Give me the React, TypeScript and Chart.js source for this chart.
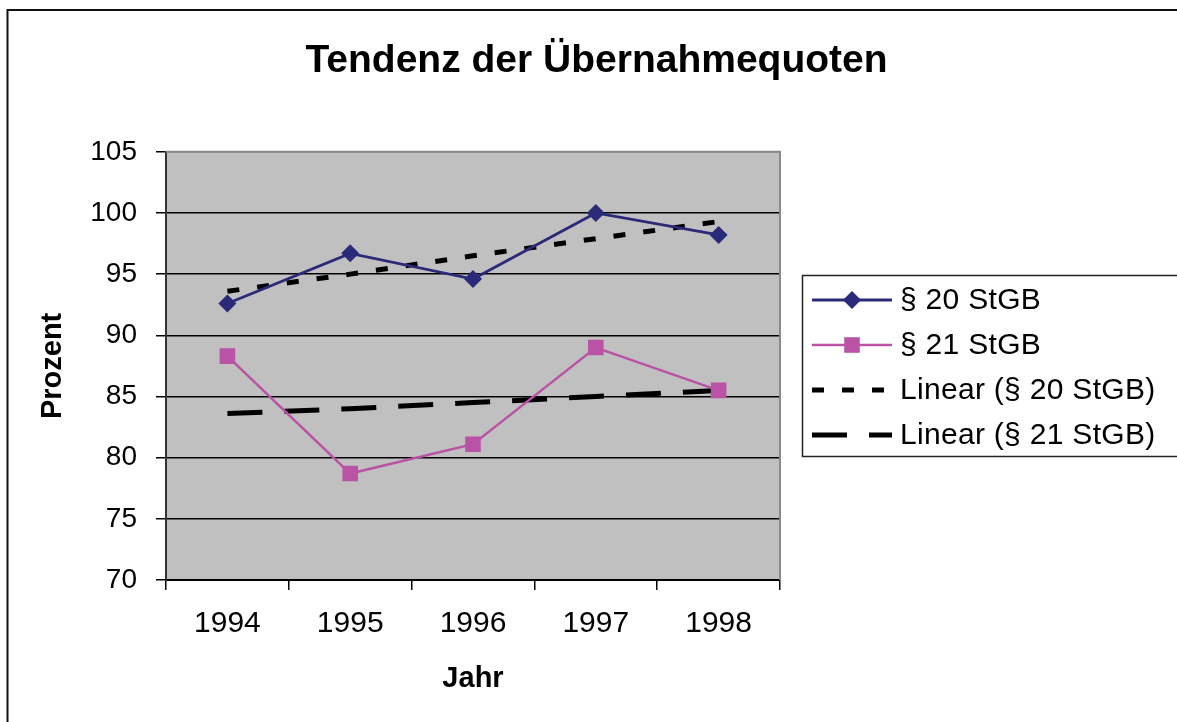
import React, { useEffect, useRef } from 'react';
import { Chart, registerables } from 'chart.js';

Chart.register(...registerables);

// ---- data ----
const years = ['1994', '1995', '1996', '1997', '1998'];
const stgb20 = [92.6, 96.7, 94.6, 100.0, 98.2];
const stgb21 = [88.3, 78.7, 81.1, 89.0, 85.5];
const trend20 = [93.6, 95.0, 96.5, 97.9, 99.3];
const trend21 = [83.6, 84.0, 84.5, 85.0, 85.5];
const seriesNames = ['§ 20 StGB', '§ 21 StGB', 'Linear (§ 20 StGB)', 'Linear (§ 21 StGB)'];
const yMin = 70;
const yMax = 105;
const yStep = 5;
const titleText = 'Tendenz der Übernahmequoten';
const xTitle = 'Jahr';
const yTitle = 'Prozent';

const FONT = "'Liberation Sans', Arial, Helvetica, sans-serif";
const NAVY = '#2A2A78';
const MAGENTA = '#BA52A6';

const framePlugin = {
  id: 'excelFrame',
  beforeDraw(chart: any) {
    const { ctx, chartArea: a } = chart;
    ctx.save();
    ctx.fillStyle = '#ffffff';
    ctx.fillRect(0, 0, chart.width, chart.height);
    ctx.fillStyle = '#C0C0C0';
    ctx.fillRect(a.left, a.top, a.right - a.left, a.bottom - a.top);
    ctx.strokeStyle = '#111';
    ctx.lineWidth = 2;
    ctx.beginPath();
    ctx.moveTo(7.5, chart.height);
    ctx.lineTo(7.5, 10);
    ctx.lineTo(chart.width, 10);
    ctx.stroke();
    ctx.restore();
  },
  beforeDatasetsDraw(chart: any) {
    const { ctx, chartArea: a } = chart;
    ctx.save();
    ctx.strokeStyle = '#8a8a8a';
    ctx.lineWidth = 2;
    ctx.beginPath();
    ctx.moveTo(a.right, a.bottom);
    ctx.lineTo(a.right, a.top);
    ctx.lineTo(a.left, a.top);
    ctx.stroke();
    ctx.restore();
  },
  afterDraw(chart: any) {
    const { ctx } = chart;
    const boxX = 802.5;
    const boxY = 275.5;
    const boxH = 181;
    ctx.save();
    ctx.strokeStyle = '#222';
    ctx.lineWidth = 1.5;
    ctx.strokeRect(boxX, boxY, chart.width - boxX + 10, boxH);
    const rowY = [300, 345, 390, 435];
    chart.data.datasets.forEach((ds: any, i: number) => {
      const y = rowY[i];
      ctx.save();
      ctx.strokeStyle = ds.borderColor;
      ctx.lineWidth = ds.borderWidth;
      ctx.setLineDash(ds.borderDash || []);
      ctx.beginPath();
      ctx.moveTo(812, y);
      ctx.lineTo(892, y);
      ctx.stroke();
      ctx.setLineDash([]);
      if (ds.pointRadius > 0) {
        ctx.fillStyle = ds.pointBackgroundColor;
        const cx = 852;
        if (ds.pointStyle === 'rectRot') {
          const r = ds.pointRadius;
          ctx.beginPath();
          ctx.moveTo(cx, y - r);
          ctx.lineTo(cx + r, y);
          ctx.lineTo(cx, y + r);
          ctx.lineTo(cx - r, y);
          ctx.closePath();
          ctx.fill();
        } else {
          const s = ds.pointRadius * Math.SQRT1_2;
          ctx.fillRect(cx - s, y - s, 2 * s, 2 * s);
        }
      }
      ctx.restore();
      ctx.save();
      ctx.fillStyle = '#000';
      ctx.font = `30px ${FONT}`;
      try {
        (ctx as any).letterSpacing = '0.3px';
      } catch (e) {}
      ctx.textBaseline = 'middle';
      ctx.textAlign = 'left';
      ctx.fillText(ds.label, 900, y + 1);
      ctx.restore();
    });
    ctx.restore();
  },
};

export default function App() {
  const canvasRef = useRef<HTMLCanvasElement | null>(null);

  useEffect(() => {
    const canvas = canvasRef.current;
    if (!canvas) return;
    const chart = new Chart(canvas, {
      type: 'line',
      data: {
        labels: years,
        datasets: [
          {
            label: seriesNames[0],
            data: stgb20,
            borderColor: NAVY,
            backgroundColor: NAVY,
            pointBackgroundColor: NAVY,
            pointBorderColor: NAVY,
            borderWidth: 2.8,
            pointStyle: 'rectRot',
            pointRadius: 9,
            pointBorderWidth: 0,
            tension: 0,
          },
          {
            label: seriesNames[1],
            data: stgb21,
            borderColor: MAGENTA,
            backgroundColor: MAGENTA,
            pointBackgroundColor: MAGENTA,
            pointBorderColor: MAGENTA,
            borderWidth: 2.5,
            pointStyle: 'rect',
            pointRadius: 11,
            pointBorderWidth: 0,
            tension: 0,
          },
          {
            label: seriesNames[2],
            data: trend20,
            borderColor: '#000',
            backgroundColor: '#000',
            borderWidth: 5,
            borderDash: [12, 18],
            pointRadius: 0,
            tension: 0,
          },
          {
            label: seriesNames[3],
            data: trend21,
            borderColor: '#000',
            backgroundColor: '#000',
            borderWidth: 5,
            borderDash: [35, 22],
            pointRadius: 0,
            tension: 0,
          },
        ],
      },
      options: {
        responsive: false,
        animation: false,
        devicePixelRatio: 1,
        layout: { padding: { left: 0, right: 0, top: 0, bottom: 0 } },
        plugins: {
          legend: { display: false },
          tooltip: { enabled: false },
          title: {
            display: true,
            text: titleText,
            color: '#000',
            font: { family: FONT, size: 39, weight: 'bold', lineHeight: 1.2 },
            padding: { top: 38, bottom: 67 },
          },
        },
        scales: {
          x: {
            type: 'category',
            offset: true,
            afterFit: (s: any) => {
              s.height = 142;
            },
            grid: {
              offset: true,
              drawOnChartArea: false,
              drawTicks: true,
              tickLength: 10,
              color: '#000',
              tickColor: '#000',
              lineWidth: 1.5,
            },
            border: { color: '#000', width: 2 },
            ticks: {
              color: '#000',
              font: { family: FONT, size: 30 },
              padding: 16,
              maxRotation: 0,
              autoSkip: false,
            },
            title: {
              display: true,
              text: xTitle,
              color: '#000',
              font: { family: FONT, size: 29, weight: 'bold', lineHeight: 1.2 },
              padding: { top: 0, bottom: 26 },
            },
          },
          y: {
            min: yMin,
            max: yMax,
            afterFit: (s: any) => {
              s.width = 166;
            },
            ticks: {
              stepSize: yStep,
              color: '#000',
              font: { family: FONT, size: 28 },
              padding: 19,
            },
            grid: {
              color: (c: any) => (c.tick && c.tick.value === yMax ? '#8a8a8a' : '#000'),
              tickColor: '#000',
              lineWidth: 1.5,
              tickLength: 10,
            },
            border: { color: '#333', width: 2 },
            title: {
              display: true,
              text: yTitle,
              color: '#000',
              font: { family: FONT, size: 29, weight: 'bold', lineHeight: 1.2 },
              padding: { top: 36, bottom: 0 },
            },
          },
          legendSpace: {
            type: 'linear',
            position: 'right',
            display: true,
            afterFit: (s: any) => {
              s.width = 413;
            },
            grid: { display: false, drawTicks: false },
            border: { display: false },
            ticks: { display: false },
          },
        },
      },
      plugins: [framePlugin],
    } as any);
    return () => chart.destroy();
  }, []);

  return (
    <div
      style={{
        position: 'fixed',
        left: 0,
        top: 0,
        width: 1177,
        height: 722,
        overflow: 'hidden',
        background: '#fff',
      }}
    >
      <canvas ref={canvasRef} width={1193} height={722} style={{ width: 1193, height: 722, display: 'block' }} />
    </div>
  );
}
